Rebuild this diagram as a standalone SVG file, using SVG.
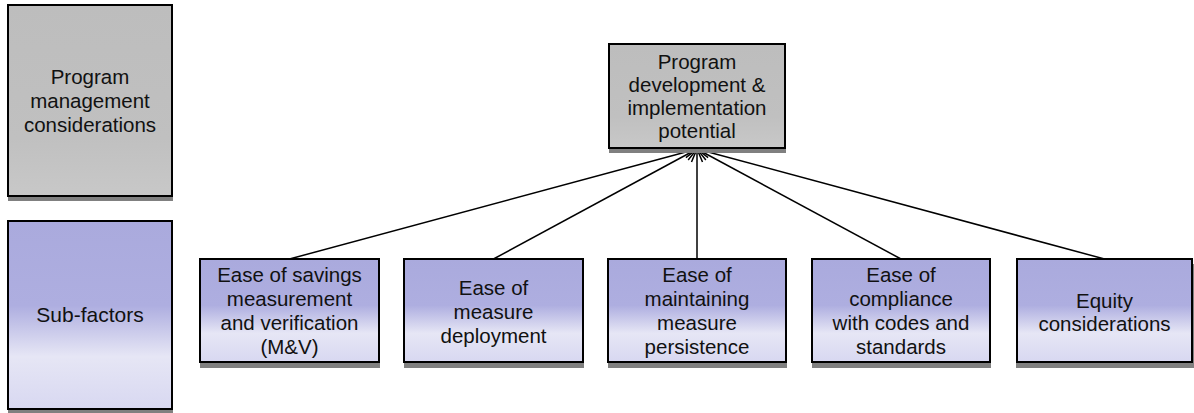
<svg xmlns="http://www.w3.org/2000/svg" width="1194" height="413" viewBox="0 0 1194 413">
  <defs>
    <linearGradient id="gPurple" x1="0" y1="0" x2="0" y2="1">
      <stop offset="0" stop-color="#AAAADD"/>
      <stop offset="0.45" stop-color="#AEAEE0"/>
      <stop offset="0.72" stop-color="#E6E6F5"/>
      <stop offset="1" stop-color="#D8D8F1"/>
    </linearGradient>
    <linearGradient id="gGrey" x1="0" y1="0" x2="0" y2="1">
      <stop offset="0" stop-color="#BDBDBD"/>
      <stop offset="0.7" stop-color="#C0C0C0"/>
      <stop offset="1" stop-color="#C8C8C8"/>
    </linearGradient>
    <marker id="arr" markerUnits="userSpaceOnUse" markerWidth="16" markerHeight="14" refX="14" refY="7" orient="auto">
      <path d="M1,1.5 L14,7 L1,12.5" fill="none" stroke="#000" stroke-width="1.5"/>
    </marker>
  </defs>
  <style>
    .shadow { fill: #808080; }
    .grey { fill: url(#gGrey); stroke: #000; stroke-width: 2; }
    .purple { fill: url(#gPurple); stroke: #000; stroke-width: 2; }
    text { font-family: "Liberation Sans", Arial, sans-serif; font-size: 20.5px; fill: #111; text-anchor: middle; }
    .conn line { stroke: #000; stroke-width: 1.5; marker-end: url(#arr); }
  </style>
  <rect width="1194" height="413" fill="#FFFFFF"/>

  <g id="legend-program">
    <rect class="shadow" x="8" y="10" width="165" height="191"/>
    <rect class="grey" x="8" y="5" width="164" height="191"/>
    <text x="90" y="84">Program</text>
    <text x="90" y="108">management</text>
    <text x="90" y="132">considerations</text>
  </g>

  <g id="legend-subfactors">
    <rect class="shadow" x="8" y="226" width="165" height="188"/>
    <rect class="purple" x="8" y="221" width="164" height="188"/>
    <text x="90" y="322" style="font-size:21px">Sub-factors</text>
  </g>

  <g id="connectors" class="conn">
    <line x1="289.5" y1="259" x2="697" y2="149"/>
    <line x1="493.5" y1="259" x2="697" y2="149"/>
    <line x1="697" y1="259" x2="697" y2="149"/>
    <line x1="901" y1="259" x2="697" y2="149"/>
    <line x1="1104.5" y1="259" x2="697" y2="149"/>
  </g>

  <g id="top-node">
    <rect class="shadow" x="609" y="49" width="177" height="104"/>
    <rect class="grey" x="609" y="44" width="176" height="104"/>
    <text x="697" y="69">Program</text>
    <text x="697" y="92">development &amp;</text>
    <text x="697" y="115">implementation</text>
    <text x="697" y="138">potential</text>
  </g>

  <g id="sub1">
    <rect class="shadow" x="200" y="264" width="180" height="104"/>
    <rect class="purple" x="200" y="259" width="179" height="103"/>
    <text x="289.5" y="282">Ease of savings</text>
    <text x="289.5" y="306">measurement</text>
    <text x="289.5" y="330">and verification</text>
    <text x="289.5" y="354">(M&amp;V)</text>
  </g>

  <g id="sub2">
    <rect class="shadow" x="404" y="264" width="180" height="104"/>
    <rect class="purple" x="404" y="259" width="179" height="103"/>
    <text x="493.5" y="295">Ease of</text>
    <text x="493.5" y="319">measure</text>
    <text x="493.5" y="343">deployment</text>
  </g>

  <g id="sub3">
    <rect class="shadow" x="608" y="264" width="179" height="104"/>
    <rect class="purple" x="608" y="259" width="178" height="103"/>
    <text x="697" y="282">Ease of</text>
    <text x="697" y="306">maintaining</text>
    <text x="697" y="330">measure</text>
    <text x="697" y="354">persistence</text>
  </g>

  <g id="sub4">
    <rect class="shadow" x="812" y="264" width="179" height="104"/>
    <rect class="purple" x="812" y="259" width="178" height="103"/>
    <text x="901" y="282">Ease of</text>
    <text x="901" y="306">compliance</text>
    <text x="901" y="330">with codes and</text>
    <text x="901" y="354">standards</text>
  </g>

  <g id="sub5">
    <rect class="shadow" x="1016" y="264" width="178" height="104"/>
    <rect class="purple" x="1017" y="259" width="175" height="103"/>
    <text x="1104.5" y="308">Equity</text>
    <text x="1104.5" y="331">considerations</text>
  </g>
</svg>
